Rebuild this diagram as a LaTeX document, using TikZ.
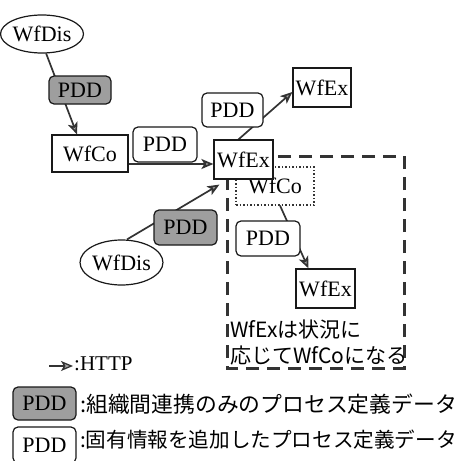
\documentclass[tikz,border=0pt]{standalone}
\usepackage{fontspec}
\setmainfont{Liberation Serif}
\newfontfamily\jp{Noto Sans CJK JP}
\usetikzlibrary{arrows.meta,shapes.geometric,backgrounds}
\begin{document}
\begin{tikzpicture}[x=1pt,y=-1pt,
  every node/.style={inner sep=0pt, font=\fontsize{22pt}{26pt}\selectfont},
  box/.style={draw=black!90, line width=1.2pt, fill=white},
  pddbox/.style={box, rounded corners=5pt},
  gpdd/.style={pddbox, fill=black!38},
  dis/.style={ellipse, draw=black!90, line width=1.2pt, fill=white},
  dotbox/.style={draw=black!80, line width=1.1pt, dash pattern=on 1.5pt off 2pt, fill=white},
  link/.style={draw=black!80, line width=1.7pt, -{Stealth[length=12pt,width=10pt,inset=3pt,fill=black!35]}},
  zone/.style={draw=black!80, line width=3pt, dash pattern=on 13pt off 8pt},
  jptext/.style={anchor=west, font=\jp\fontsize{21pt}{24pt}\selectfont},
  legtexta/.style={anchor=west, font=\jp\fontsize{21.8pt}{26pt}\selectfont},
  legtextb/.style={anchor=west, font=\jp\fontsize{20.6pt}{26pt}\selectfont}
]
\useasboundingbox (0,0) rectangle (465,460);
\begin{pgfonlayer}{background}
\fill[white] (0,0) rectangle (465,460);
\end{pgfonlayer}

% dashed zone
\draw[zone] (227,156) rectangle (404,368);

% nodes
\node[dotbox, minimum width=78pt, minimum height=38pt] (co2) at (275,186) {WfCo};
\node[dis, minimum width=66pt, minimum height=38pt] (dis1) at (42,34) {WfDis};
\node[gpdd, minimum width=62pt, minimum height=28pt] (gp1) at (80,90) {PDD};
\node[box, minimum width=76pt, minimum height=37pt] (co1) at (90,153.5) {WfCo};
\node[pddbox, minimum width=64pt, minimum height=35pt] (p1) at (165,144.5) {PDD};
\node[box, minimum width=59pt, minimum height=39pt] (ex1) at (243.5,159.5) {WfEx};
\node[pddbox, minimum width=61pt, minimum height=34pt] (p2) at (232.5,110) {PDD};
\node[box, minimum width=58pt, minimum height=39pt] (ex2) at (322,87.5) {WfEx};
\node[pddbox, minimum width=64pt, minimum height=35pt] (p3) at (268,238.5) {PDD};
\node[box, minimum width=59pt, minimum height=39pt] (ex3) at (325.5,288.5) {WfEx};
\node[dis, minimum width=67pt, minimum height=45pt] (dis2) at (121.5,262.5) {WfDis};
\node[gpdd, minimum width=63pt, minimum height=35pt] (gp2) at (185.5,227.5) {PDD};

\node[jptext] (t1) at (230,330) {WfExは状況に};
\node[jptext] (t2) at (230,355.5) {応じてWfCoになる};

% connectors
\begin{pgfonlayer}{background}
\draw[link] (dis1.-78) -- ([xshift=-13pt]co1.north);
\draw[link] ([yshift=-10.5pt]co1.east) -- ([yshift=-4.5pt]ex1.west);
\draw[link] ([xshift=-5pt]ex1.north) -- ([yshift=-4.5pt]ex2.west);
\draw[link] ([xshift=5pt]co2.south) -- ([xshift=-17pt]ex3.north);
\draw[link] ([xshift=5.5pt]dis2.north) -- ([xshift=6pt,yshift=-5pt]ex1.south west);
\end{pgfonlayer}

% legend
\coordinate (hs) at (49,366);
\coordinate (he) at (73,366);
\draw[link, line width=1.3pt] (hs) -- (he);
\node[anchor=west, font=\fontsize{21pt}{24pt}\selectfont] (http) at (74,364) {:HTTP};
\node[gpdd, minimum width=63pt, minimum height=33pt] (lg1) at (44.5,403.5) {PDD};
\node[legtexta] (lt1) at (80,404) {:組織間連携のみのプロセス定義データ};
\node[pddbox, minimum width=63pt, minimum height=36pt] (lg2) at (44.5,445) {PDD};
\node[legtextb] (lt2) at (80,440) {:固有情報を追加したプロセス定義データ};
\end{tikzpicture}
\end{document}
